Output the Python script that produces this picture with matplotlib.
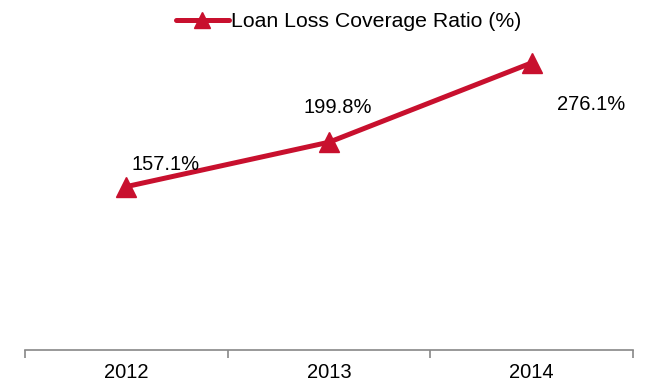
import matplotlib.pyplot as plt

plt.rcParams['font.family'] = ['Liberation Sans', 'DejaVu Sans']

years = ['2012', '2013', '2014']
ratio = [157.1, 199.8, 276.1]
labels = ['157.1%', '199.8%', '276.1%']
# label offsets in points (dx, dy)
offsets = [(28, 16), (6, 25), (43, -30)]

red = '#C8102E'

fig = plt.figure(figsize=(6.46, 3.84), dpi=100)
ax = fig.add_axes([25/646, 34/384, 608/646, 312/384])

x = range(len(years))
ax.plot(x, ratio, color=red, lw=3.6, marker='^', markersize=14,
        label='Loan Loss Coverage Ratio (%)', solid_capstyle='round')

for xi, yi, t, off in zip(x, ratio, labels, offsets):
    ax.annotate(t, (xi, yi), xytext=off, textcoords='offset points',
                ha='center', va='center', fontsize=14.5, color='black')

ax.set_xlim(-0.5, 2.5)
ax.set_ylim(0, 300)
ax.set_xticks(list(x))
ax.set_xticklabels(years, fontsize=14.5)
ax.set_xticks([-0.5, 0.5, 1.5, 2.5], minor=True)
ax.tick_params(axis='x', which='major', length=0, pad=9)
ax.tick_params(axis='x', which='minor', length=6, width=1.2, color='#888888')
ax.set_yticks([])
for s in ['top', 'right', 'left']:
    ax.spines[s].set_visible(False)
ax.spines['bottom'].set_color('#888888')
ax.spines['bottom'].set_linewidth(1.2)

ax.legend(loc='upper center', bbox_to_anchor=(0.532, 1.13), frameon=False,
          fontsize=15.3, handlelength=2.5, handletextpad=0.1, markerscale=0.8,
          borderpad=0.2)

fig.savefig('out.png', dpi=100)
